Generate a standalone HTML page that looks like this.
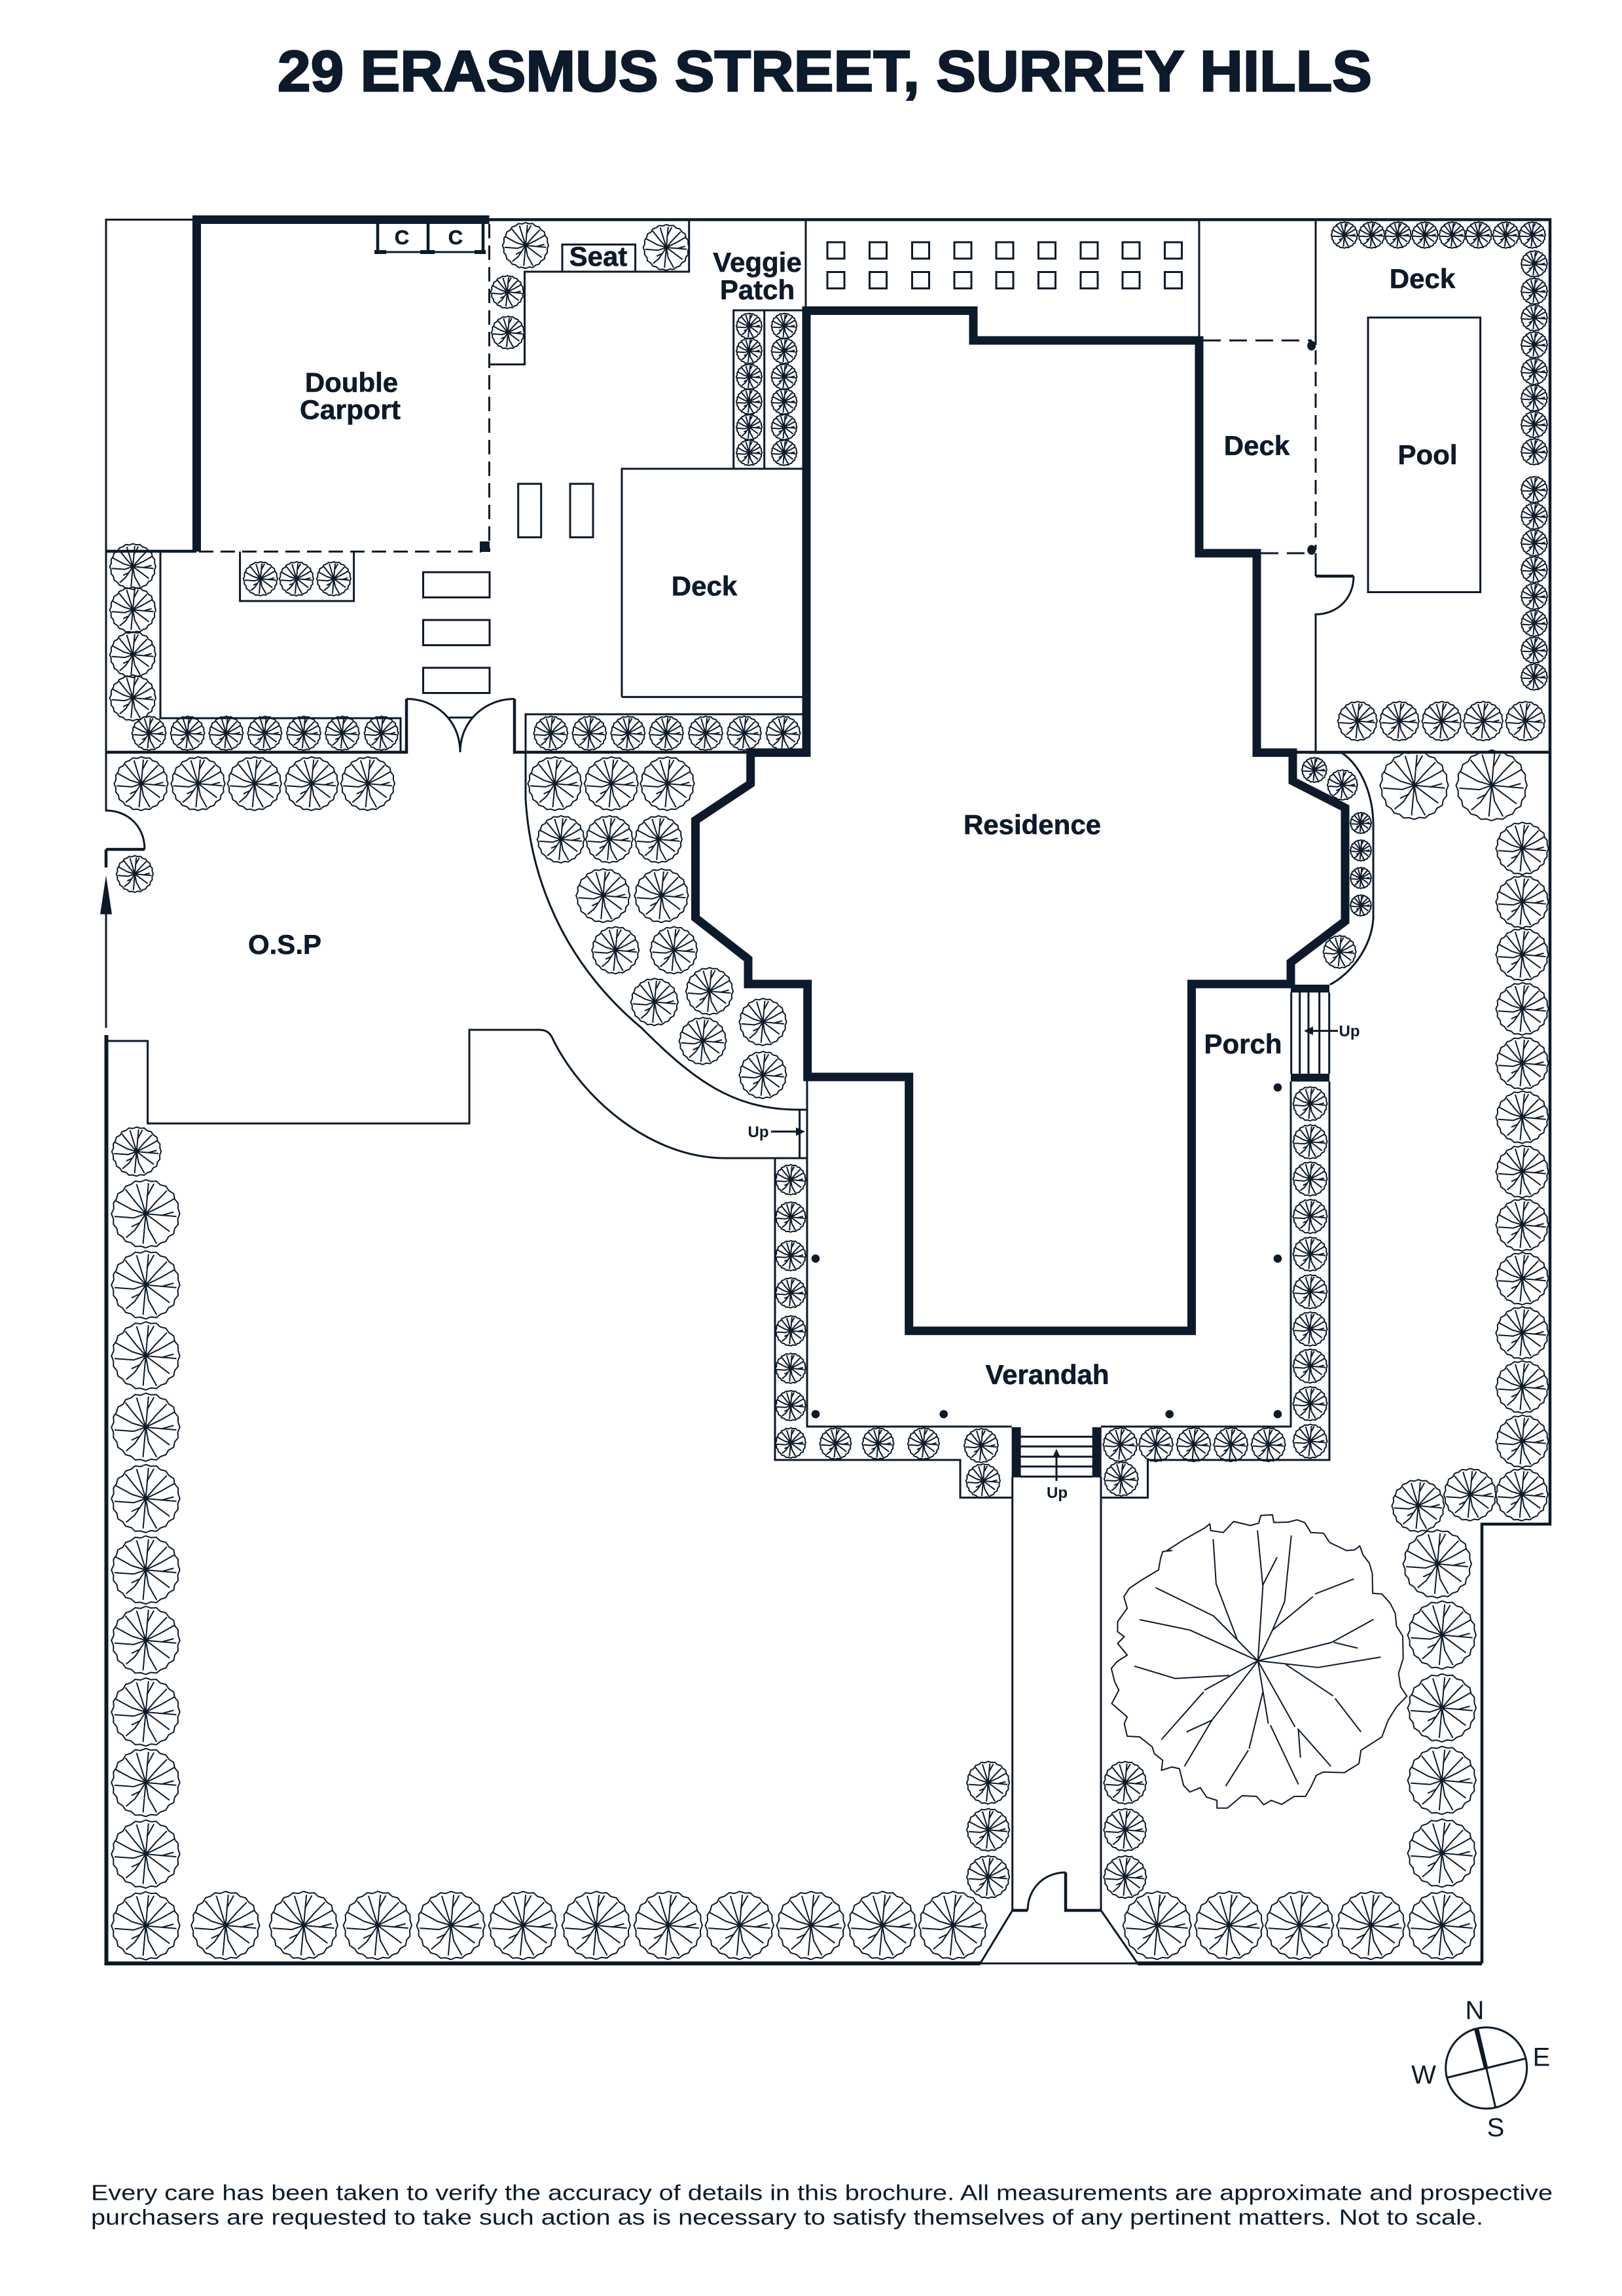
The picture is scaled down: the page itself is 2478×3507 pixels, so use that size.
<!DOCTYPE html>
<html><head><meta charset="utf-8"><title>29 Erasmus Street, Surrey Hills</title>
<style>
html,body{margin:0;padding:0;background:#fff}
svg{display:block}
text{font-family:"Liberation Sans",sans-serif;fill:#0c1a2b}
.b{font-weight:700;text-anchor:middle;font-size:42px;stroke:#0c1a2b;stroke-width:.6}
.u{font-weight:700;text-anchor:middle;font-size:24px}
.c{font-size:40px;text-anchor:middle}
.t{fill:none;stroke:#0c1a2b;stroke-width:2;vector-effect:non-scaling-stroke;stroke-linejoin:round}
.l{fill:none;stroke:#0c1a2b;stroke-width:3}
.m{fill:none;stroke:#0c1a2b;stroke-width:4.5}
.k{fill:none;stroke:#0c1a2b;stroke-width:6}
.d{fill:none;stroke:#0c1a2b;stroke-width:3;stroke-dasharray:22 11}
.e{fill:none;stroke:#0c1a2b;stroke-width:3;stroke-dasharray:27 13}
.w{fill:none;stroke:#0c1a2b;stroke-width:13;stroke-linejoin:miter}
.f{fill:#0c1a2b}
</style></head><body>
<svg xmlns="http://www.w3.org/2000/svg" width="2478" height="3507" viewBox="0 0 2478 3507">
<defs>
<g id="t">
<polygon class="t" points="100,0 94,15 95,31 85,43 82,59 67,67 59,81 44,86 31,96 15,94 0,100 -15,95 -31,96 -43,85 -59,81 -68,68 -82,59 -85,43 -95,31 -95,15 -101,0 -94,-15 -95,-31 -86,-44 -82,-59 -67,-67 -59,-81 -44,-86 -31,-96 -15,-94 0,-100 15,-95 31,-96 43,-85 59,-81 68,-68 82,-59 85,-43 95,-31 95,-15"/>
<path class="t" d="M0 0L-27-87M0 0L8-90M3-50L24-88M0 0L30-35L62-68M0 0L45-22L85-45M0 0L90 8M45 5L82-5M0 0L70 52M0 0L8 45L32 88M0 0L-8 88M0 0L-32 48L-58 70M-15 25L-42 38M0 0L-35 12L-92 8M0 0L-40-12L-88-38M0 0L-28-32L-60-72"/>
</g>
<use id="r16" href="#t" transform="scale(.16)"/>
<use id="r19" href="#t" transform="scale(.19)"/>
<use id="r195" href="#t" transform="scale(.195)"/>
<use id="r20" href="#t" transform="scale(.2)"/>
<use id="r23" href="#t" transform="scale(.23)"/>
<use id="r24" href="#t" transform="scale(.24)"/>
<use id="r25" href="#t" transform="scale(.25)"/>
<use id="r26" href="#t" transform="scale(.26)"/>
<use id="r28" href="#t" transform="scale(.28)"/>
<use id="r30" href="#t" transform="scale(.3)"/>
<use id="r325" href="#t" transform="scale(.325)"/>
<use id="r35" href="#t" transform="scale(.35)"/>
<use id="r36" href="#t" transform="scale(.36)"/>
<use id="r375" href="#t" transform="scale(.375)"/>
<use id="r40" href="#t" transform="scale(.4)"/>
<use id="r41" href="#t" transform="scale(.41)"/>
<use id="r52" href="#t" transform="scale(.52)"/>
<use id="r54" href="#t" transform="scale(.54)"/>
</defs>
<rect width="2478" height="3507" fill="#fff"/>

<!-- Title -->
<text x="424" y="139" font-size="88" font-weight="700" textLength="1672" lengthAdjust="spacingAndGlyphs" stroke="#0c1a2b" stroke-width="2.5">29 ERASMUS STREET, SURREY HILLS</text>

<!-- Boundary -->
<path class="l" d="M300 335.5H162V842"/>
<path class="m" d="M747 335.5H2368V2328H2264V2999"/>
<path class="k" d="M2264 2999H1738M1497.6 2999H162.500V1581"/>
<path class="l" d="M162 1396V1570M1497.6 2999H1738"/>
<path class="l" d="M162 842V1149"/>
<path class="m" d="M162 842H300"/>
<path class="m" d="M162 1149H621V1067.500M786 1067.500V1149H1146M1975 1149H2368"/>
<path class="l" d="M621 1067.500C665 1067.500 703 1100 703 1149M786 1067.500C742 1067.500 703 1100 703 1149M686 1096H722"/>

<!-- Left gate and notch -->
<path class="l" d="M162 1149V1238C195 1238 221 1262 221 1297.400"/>
<path class="m" d="M162 1297.400H221M162 1297.400V1325"/>
<polygon class="f" points="162,1337 171,1396.500 153,1396.500"/>
<path class="l" d="M162 1590H225.600V1716H717V1573H824C835 1573 840 1578 843.600 1585C885 1672 990 1769 1108 1769H1233"/>
<path class="l" d="M803 1149V1220C810 1340 860 1470 980 1570C1060 1650 1120 1695 1220 1695H1233"/>
<path class="l" d="M1221.600 1695V1769"/>

<!-- Carport -->
<path class="w" d="M300.500 842.500V335.500H747.500"/>
<path class="d" d="M747.500 342V843"/>
<path class="d" d="M304 842.500H735"/>
<rect class="f" x="733" y="827" width="15" height="16"/>
<path class="m" d="M577 340V385M654 340V385M738 340V385"/>
<path class="l" d="M575 385H742"/>
<path class="k" d="M572 385H590M642 385H664M725 385H742"/>

<!-- Beds and structures -->
<path class="l" d="M747.500 556.600H801.500V415H1052.700V335.500"/>
<rect class="l" x="859" y="373.500" width="111.600" height="41.500"/>
<path class="l" d="M1231 335.500V474"/>
<path class="l" d="M1120.700 716V474H1232M1167.700 474V716"/>
<path class="l" d="M950 1064.600V716H1232M950 1064.600H1232"/>
<path class="l" d="M366.600 842.500V918H540.600V842.500"/>
<path class="l" d="M245 842.500V1097H612V1149M803 1149V1091H1232"/>
<rect class="l" x="646.500" y="874" width="101.500" height="38.500"/>
<rect class="l" x="646.500" y="947" width="101.500" height="38.500"/>
<rect class="l" x="646.500" y="1020" width="101.500" height="38.500"/>
<rect class="l" x="791.700" y="739" width="35" height="81.700"/>
<rect class="l" x="871" y="739" width="35" height="81.700"/>

<!-- Veggie squares and east side -->
<g class="l">
<rect x="1264" y="370" width="26" height="25"/><rect x="1328.500" y="370" width="26" height="25"/><rect x="1393.500" y="370" width="26" height="25"/><rect x="1458" y="370" width="26" height="25"/><rect x="1522" y="370" width="26" height="25"/><rect x="1586.500" y="370" width="26" height="25"/><rect x="1651" y="370" width="26" height="25"/><rect x="1715" y="370" width="26" height="25"/><rect x="1779.500" y="370" width="26" height="25"/>
<rect x="1264" y="415.500" width="26" height="25"/><rect x="1328.500" y="415.500" width="26" height="25"/><rect x="1393.500" y="415.500" width="26" height="25"/><rect x="1458" y="415.500" width="26" height="25"/><rect x="1522" y="415.500" width="26" height="25"/><rect x="1586.500" y="415.500" width="26" height="25"/><rect x="1651" y="415.500" width="26" height="25"/><rect x="1715" y="415.500" width="26" height="25"/><rect x="1779.500" y="415.500" width="26" height="25"/>
</g>
<path class="l" d="M1832 335.500V520M2010 335.500V527"/>
<path class="e" d="M1838 520H2004M1926 845H2004"/>
<path class="d" d="M2010 535V840"/>
<ellipse class="f" cx="2003.700" cy="528" rx="6.500" ry="7.500"/>
<ellipse class="f" cx="2003.700" cy="840" rx="6.500" ry="7.500"/>
<path class="l" d="M2010 845V880M2068 880C2068 915 2042 938.400 2010 938.400V1149"/>
<path class="m" d="M2010 880H2068"/>
<rect class="l" x="2090" y="485" width="171.600" height="419.500"/>

<!-- East bed curve -->
<path class="l" d="M2000 1150H2050C2080 1170 2098 1215 2098 1260.500V1403C2095 1450 2060 1490 2031.700 1504"/>

<!-- Residence walls -->
<path class="w" d="M1232 474.500H1487V520H1832V845H1920V1149.600H1975V1193L2055 1234V1407L1972 1470V1503H1820.500V2032.700H1388.700V1645H1233.700V1503H1143V1465L1062.500 1402V1253L1146.700 1197V1149.600H1232Z"/>

<!-- Porch stairs -->
<rect class="f" x="1972" y="1504" width="59" height="12"/>
<rect class="f" x="1972" y="1640" width="59" height="12"/>
<path class="l" d="M1972.700 1516V1640M1985.700 1516V1640M1999 1516V1640M2015.700 1516V1640M2030.700 1516V1640"/>
<path class="l" d="M2044 1574.600H1995"/>
<polygon class="f" points="1992,1574.600 2006,1568 2006,1581"/>
<text class="u" x="2061.500" y="1583">Up</text>

<!-- Verandah -->
<path class="l" d="M1233 1645V2179H1545.600M1682 2179H1972V1652"/>
<path class="l" d="M1184 1770V2230H1467V2287.500H1545.600M2031 1652V2230H1753.500V2287.500H1682"/>
<path class="l" d="M1546.700 2256V2918L1497.600 2999M1682 2256V2918L1738 2999"/>
<path class="m" d="M1546.700 2918H1570M1628 2860V2918H1682"/>
<path class="l" d="M1570 2918C1570 2885 1595 2860 1628 2860"/>
<rect class="f" x="1545.600" y="2180" width="14" height="76.600"/>
<rect class="f" x="1668.700" y="2180" width="14" height="76.600"/>
<path class="l" d="M1559 2194.500H1669M1559 2209.400H1669M1559 2225H1669M1559 2240H1669M1559 2255.400H1669"/>
<path class="l" d="M1614 2262V2222"/>
<polygon class="f" points="1614,2213 1620,2226 1608,2226"/>
<text class="u" x="1615" y="2288">Up</text>
<path class="l" d="M1178 1728.400H1220"/>
<polygon class="f" points="1230,1728.400 1216,1722 1216,1735"/>
<text class="u" x="1158.500" y="1737">Up</text>
<circle class="f" cx="1952" cy="1661" r="6.300"/><circle class="f" cx="1952" cy="1922.400" r="6.300"/><circle class="f" cx="1246" cy="1922.400" r="6.300"/><circle class="f" cx="1246" cy="2160" r="6.300"/><circle class="f" cx="1441.700" cy="2160" r="6.300"/><circle class="f" cx="1786.700" cy="2160" r="6.300"/><circle class="f" cx="1952" cy="2160" r="6.300"/>

<!-- Trees -->
<use href="#r35" x="803" y="375"/><use href="#r35" x="1018" y="378"/>
<use href="#r25" x="775" y="446"/><use href="#r25" x="776" y="508"/>
<use href="#r195" x="1144.600" y="498"/><use href="#r195" x="1144.600" y="536"/><use href="#r195" x="1144.600" y="575.500"/><use href="#r195" x="1144.600" y="613.400"/><use href="#r195" x="1144.600" y="652.500"/><use href="#r195" x="1144.600" y="691.500"/>
<use href="#r195" x="1198" y="498"/><use href="#r195" x="1198" y="536"/><use href="#r195" x="1198" y="575.500"/><use href="#r195" x="1198" y="613.400"/><use href="#r195" x="1198" y="652.500"/><use href="#r195" x="1198" y="691.500"/>
<use href="#r26" x="398" y="884"/><use href="#r26" x="453" y="884"/><use href="#r26" x="510" y="884"/>
<use href="#r35" x="203" y="865.400"/><use href="#r35" x="203" y="931.500"/><use href="#r35" x="203" y="1000"/><use href="#r35" x="203" y="1066"/>
<use href="#r26" x="227.700" y="1120"/><use href="#r26" x="286.600" y="1120"/><use href="#r26" x="345.500" y="1120"/><use href="#r26" x="404.500" y="1120"/><use href="#r26" x="464" y="1120"/><use href="#r26" x="523" y="1120"/><use href="#r26" x="582.600" y="1120"/>
<use href="#r26" x="841.500" y="1120"/><use href="#r26" x="900.400" y="1120"/><use href="#r26" x="959.400" y="1120"/><use href="#r26" x="1018" y="1120"/><use href="#r26" x="1078" y="1120"/><use href="#r26" x="1137" y="1120"/><use href="#r26" x="1196.500" y="1120"/>
<use href="#r20" x="2054" y="359"/><use href="#r20" x="2095.500" y="359"/><use href="#r20" x="2136" y="359"/><use href="#r20" x="2177" y="359"/><use href="#r20" x="2218.700" y="359"/><use href="#r20" x="2259" y="359"/><use href="#r20" x="2300.600" y="359"/><use href="#r20" x="2341" y="359"/>
<use href="#r20" x="2344" y="403"/><use href="#r20" x="2344" y="444.700"/><use href="#r20" x="2344" y="485.400"/><use href="#r20" x="2344" y="526.700"/><use href="#r20" x="2344" y="567.500"/><use href="#r20" x="2344" y="608"/><use href="#r20" x="2344" y="648.500"/><use href="#r20" x="2344" y="690"/>
<use href="#r20" x="2344" y="747.800"/><use href="#r20" x="2344" y="788.500"/><use href="#r20" x="2344" y="829.300"/><use href="#r20" x="2344" y="870"/><use href="#r20" x="2344" y="911"/><use href="#r20" x="2344" y="952"/><use href="#r20" x="2344" y="993"/><use href="#r20" x="2344" y="1034"/>
<use href="#r30" x="2074" y="1101.400"/><use href="#r30" x="2138" y="1101.400"/><use href="#r30" x="2202.600" y="1101.400"/><use href="#r30" x="2266" y="1101.400"/><use href="#r30" x="2330.400" y="1101.400"/>
<use href="#r41" x="215.800" y="1197"/><use href="#r41" x="302.700" y="1197"/><use href="#r41" x="389" y="1197"/><use href="#r41" x="476" y="1197"/><use href="#r41" x="562" y="1197"/>
<use href="#r41" x="847.800" y="1197"/><use href="#r41" x="934" y="1197"/><use href="#r41" x="1019.700" y="1197"/>
<use href="#r36" x="857" y="1282"/><use href="#r36" x="931" y="1282"/><use href="#r36" x="1006" y="1282"/>
<use href="#r41" x="921.500" y="1368"/><use href="#r41" x="1010.600" y="1368"/>
<use href="#r36" x="940.400" y="1451.400"/><use href="#r36" x="1029.500" y="1451.400"/>
<use href="#r36" x="1000" y="1530.400"/><use href="#r36" x="1084" y="1514"/><use href="#r36" x="1073.700" y="1590"/><use href="#r36" x="1165.600" y="1561"/><use href="#r36" x="1165.600" y="1642"/>
<use href="#r28" x="206" y="1335"/>
<use href="#r375" x="208.700" y="1759"/>
<use href="#r52" x="222.700" y="1854"/><use href="#r52" x="222.700" y="1962.600"/><use href="#r52" x="222.700" y="2071"/><use href="#r52" x="222.700" y="2180"/><use href="#r52" x="222.700" y="2289"/><use href="#r52" x="222.700" y="2398"/><use href="#r52" x="222.700" y="2505.600"/><use href="#r52" x="222.700" y="2615"/><use href="#r52" x="222.700" y="2722.700"/><use href="#r52" x="222.700" y="2832"/><use href="#r52" x="222.700" y="2941.600"/>
<use href="#r52" x="344.600" y="2941"/><use href="#r52" x="464" y="2941"/><use href="#r52" x="577" y="2941"/><use href="#r52" x="689" y="2941"/><use href="#r52" x="799" y="2941"/><use href="#r52" x="911" y="2941"/><use href="#r52" x="1021" y="2941"/><use href="#r52" x="1130" y="2941"/><use href="#r52" x="1239" y="2941"/><use href="#r52" x="1348" y="2941"/><use href="#r52" x="1456" y="2941"/>
<use href="#r23" x="1208" y="1802"/><use href="#r23" x="1208" y="1859"/><use href="#r23" x="1208" y="1918"/><use href="#r23" x="1208" y="1974.700"/><use href="#r23" x="1208" y="2032.700"/><use href="#r23" x="1208" y="2090"/><use href="#r23" x="1208" y="2147"/><use href="#r23" x="1208" y="2204"/>
<use href="#r24" x="1276.500" y="2205"/><use href="#r24" x="1341.500" y="2205"/><use href="#r24" x="1411" y="2205"/>
<use href="#r26" x="1499" y="2208"/><use href="#r26" x="1502" y="2262"/>
<use href="#r26" x="1711.400" y="2206.600"/><use href="#r26" x="1766" y="2206.600"/><use href="#r26" x="1823.700" y="2206.600"/><use href="#r26" x="1880.400" y="2206.600"/><use href="#r26" x="1937.800" y="2206.600"/><use href="#r26" x="1713" y="2259"/>
<use href="#r26" x="2001.600" y="1686"/><use href="#r26" x="2001.600" y="1744"/><use href="#r26" x="2001.600" y="1800.700"/><use href="#r26" x="2001.600" y="1858"/><use href="#r26" x="2001.600" y="1915.600"/><use href="#r26" x="2001.600" y="1973"/><use href="#r26" x="2001.600" y="2030"/><use href="#r26" x="2001.600" y="2086.600"/><use href="#r26" x="2001.600" y="2144"/><use href="#r26" x="2001.600" y="2201.400"/>
<use href="#r19" x="2008" y="1176"/><use href="#r23" x="2051" y="1199"/>
<use href="#r16" x="2079" y="1257"/><use href="#r16" x="2079" y="1299"/><use href="#r16" x="2079" y="1341"/><use href="#r16" x="2079" y="1383"/>
<use href="#r25" x="2046.700" y="1454"/>
<use href="#r52" x="2160.700" y="1199.600"/><use href="#r54" x="2279" y="1199.600"/>
<use href="#r40" x="2325.700" y="1296"/><use href="#r40" x="2325.700" y="1377.500"/><use href="#r40" x="2325.700" y="1458"/><use href="#r40" x="2325.700" y="1541"/><use href="#r40" x="2325.700" y="1624"/><use href="#r40" x="2325.700" y="1706.500"/><use href="#r40" x="2325.700" y="1789.500"/><use href="#r40" x="2325.700" y="1871"/><use href="#r40" x="2325.700" y="1953"/><use href="#r40" x="2325.700" y="2036"/><use href="#r40" x="2325.700" y="2118.500"/><use href="#r40" x="2325.700" y="2201.600"/>
<use href="#r40" x="2325" y="2283"/><use href="#r40" x="2246" y="2283"/><use href="#r40" x="2166.700" y="2300"/>
<use href="#r52" x="2196" y="2388.800"/><use href="#r52" x="2203" y="2497.400"/><use href="#r52" x="2203" y="2608.700"/><use href="#r52" x="2203" y="2719.400"/><use href="#r52" x="2203" y="2830.600"/><use href="#r52" x="2203" y="2941"/>
<use href="#r52" x="1768" y="2941"/><use href="#r52" x="1877.700" y="2941"/><use href="#r52" x="1985.500" y="2941"/><use href="#r52" x="2094.500" y="2941"/>
<use href="#r325" x="1509.700" y="2723"/><use href="#r325" x="1509.700" y="2795"/><use href="#r325" x="1509.700" y="2867"/>
<use href="#r325" x="1719" y="2723"/><use href="#r325" x="1719" y="2795"/><use href="#r325" x="1719" y="2867"/>

<!-- Big tree -->
<g transform="translate(1400,2250) scale(.6378,.5102)">
<polygon class="t" points="820,150 825,127 853,125 856,148 890,147 912,140 930,148 945,178 975,180 990,208 1030,232 1050,230 1062,218 1070,245 1085,270 1092,300 1093,360 1115,362 1135,390 1147,420 1150,458 1165,488 1166,555 1155,600 1160,640 1175,668 1150,700 1130,740 1115,790 1065,830 1060,870 1025,897 975,895 958,905 945,940 932,968 905,968 875,992 850,980 832,993 815,968 780,966 745,1003 720,1003 720,980 695,970 680,942 655,955 640,935 630,885 612,880 587,890 590,860 570,840 565,820 535,790 505,788 498,750 505,730 468,690 485,650 475,625 467,585 480,565 505,545 482,510 498,490 482,475 482,445 505,405 497,370 510,345 540,320 580,290 585,255 590,235 612,232 600,232 640,200 690,165 703,152 705,172 735,178 760,145 800,157"/>
<path class="t" d="M818 562L830 340L817 172M830 335L864 252M818 562L853 470L882 385L898 187M853 470L950 370M955 362L1048 317M818 562L995 507L1095 438M1000 507L1057 524M818 562L962 582L1112 551M885 573L998 667M1003 675L1065 775M818 562L907 760M913 765L993 878M915 770L920 852M848 755L915 932M818 562L843 750M830 655L797 825M795 830L741 937M818 562L708 740L642 878M708 740L647 775M818 562L690 650M688 655L587 798M750 606L620 615L522 578M818 562L655 470L535 439M818 562L712 428L573 343M768 497L718 332L711 198"/>
</g>

<!-- Labels -->
<text class="b" x="537" y="598.500">Double</text>
<text class="b" x="535" y="640" textLength="154" lengthAdjust="spacingAndGlyphs">Carport</text>
<text class="b" x="914" y="406">Seat</text>
<text class="b" x="1157" y="415">Veggie</text>
<text class="b" x="1157" y="457">Patch</text>
<text class="b" style="font-size:31px" x="614" y="373">C</text>
<text class="b" style="font-size:31px" x="696" y="373">C</text>
<text class="b" x="1076" y="909.600">Deck</text>
<text class="b" x="1920" y="695">Deck</text>
<text class="b" x="2173" y="440">Deck</text>
<text class="b" x="2181" y="709">Pool</text>
<text class="b" x="435" y="1457">O.S.P</text>
<text class="b" x="1577" y="1274">Residence</text>
<text class="b" x="1899" y="1609">Porch</text>
<text class="b" x="1600" y="2114">Verandah</text>

<!-- Compass -->
<circle cx="2270.700" cy="3158.700" r="62" fill="none" stroke="#0c1a2b" stroke-width="3"/>
<path fill="none" stroke="#0c1a2b" stroke-width="3" d="M2210 3173.700L2330.700 3144.300M2270.700 3158.700L2285 3220"/>
<polygon class="f" points="2252,3099.500 2259,3097.500 2273,3157 2267,3159"/>
<text class="c" x="2253" y="3084">N</text>
<text class="c" x="2355" y="3155.700">E</text>
<text class="c" x="2175" y="3182.700">W</text>
<text class="c" x="2285" y="3263">S</text>

<!-- Footer -->
<text x="139" y="3360.500" font-size="33.500" textLength="2233" lengthAdjust="spacingAndGlyphs">Every care has been taken to verify the accuracy of details in this brochure. All measurements are approximate and prospective</text>
<text x="139" y="3398" font-size="33.500" textLength="2127" lengthAdjust="spacingAndGlyphs">purchasers are requested to take such action as is necessary to satisfy themselves of any pertinent matters. Not to scale.</text>
</svg>
</body></html>
